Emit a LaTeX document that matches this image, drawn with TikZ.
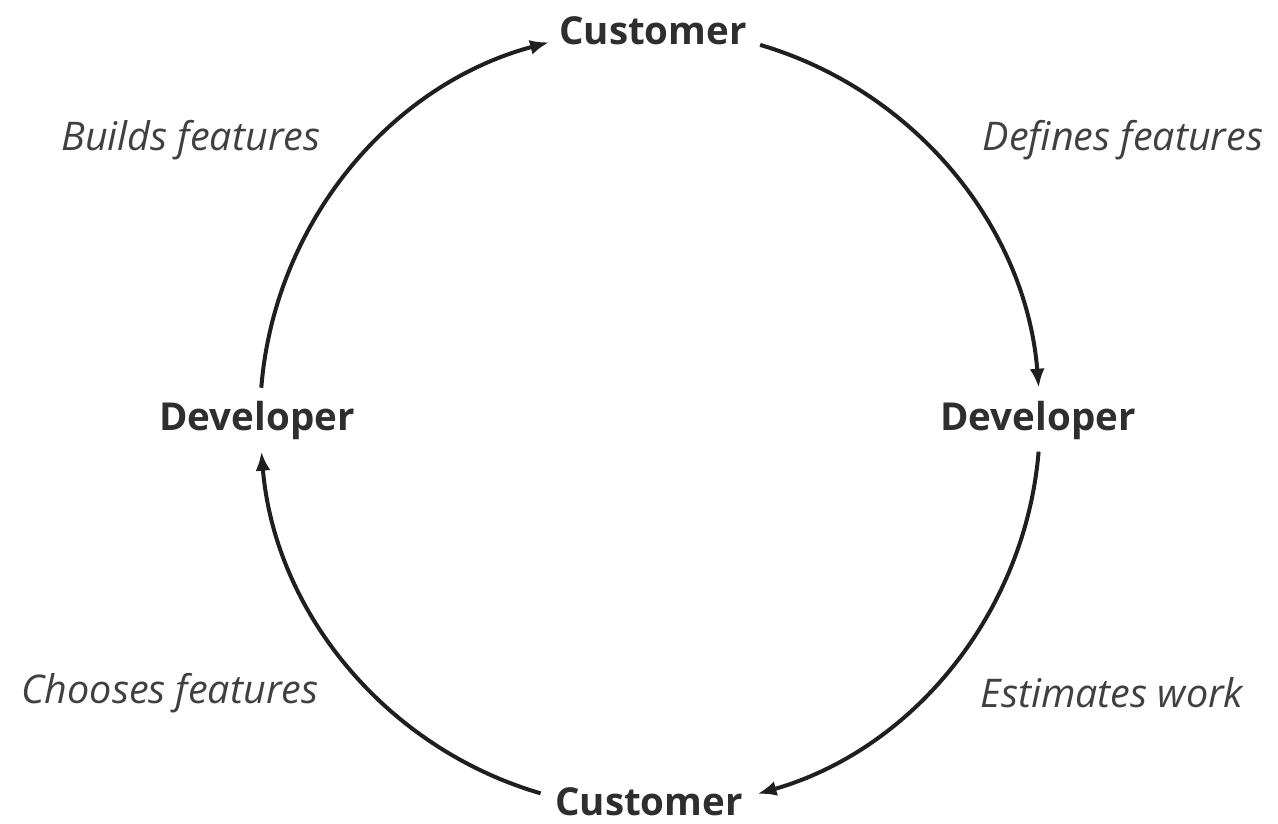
\documentclass[tikz,border=0pt]{standalone}
\usepackage{fontspec}
\setmainfont{Open Sans}
\usetikzlibrary{arrows.meta}
\begin{document}
\begin{tikzpicture}[x=1pt,y=1pt,
  role/.style={font=\fontsize{38.5}{42}\selectfont\bfseries, text=black!82, inner sep=0pt},
  act/.style={font=\fontsize{39.5}{42}\selectfont\itshape, text=black!75, inner sep=0pt},
  flow/.style={line width=4pt, draw=black!88, -{Latex[length=19pt,width=15pt]}}]
\useasboundingbox (0,0) rectangle (1278,-823);
\node[role] (custT) at (653,-31) {Customer};
\node[role] (devR) at (1038,-420) {Developer};
\node[role] (devL) at (257,-420) {Developer};
\node[role] (custB) at (649,-802) {Customer};
\node[act] (l1) at (191,-140) {Builds features};
\node[act] (l2) at (1123,-140) {Defines features};
\node[act] (l3) at (170,-693) {Chooses features};
\node[act] (l4) at (1112,-693) {Estimates work};
% arc end points on the circle (centre 650,-419; radius 390)
\coordinate (a1) at ([shift={(650,-419)}]175.4:390);
\coordinate (a2) at ([shift={(650,-419)}]73.6:390);
\coordinate (a3) at ([shift={(650,-419)}]-4.8:390);
\coordinate (a4) at ([shift={(650,-419)}]253.7:390);
\draw[flow] (a1) arc[start angle=175.4, end angle=105.0, radius=390];
\draw[flow] (a2) arc[start angle=73.6, end angle=4.6, radius=390];
\draw[flow] (a3) arc[start angle=-4.8, end angle=-74.0, radius=390];
\draw[flow] (a4) arc[start angle=253.7, end angle=184.8, radius=390];
\end{tikzpicture}
\end{document}
